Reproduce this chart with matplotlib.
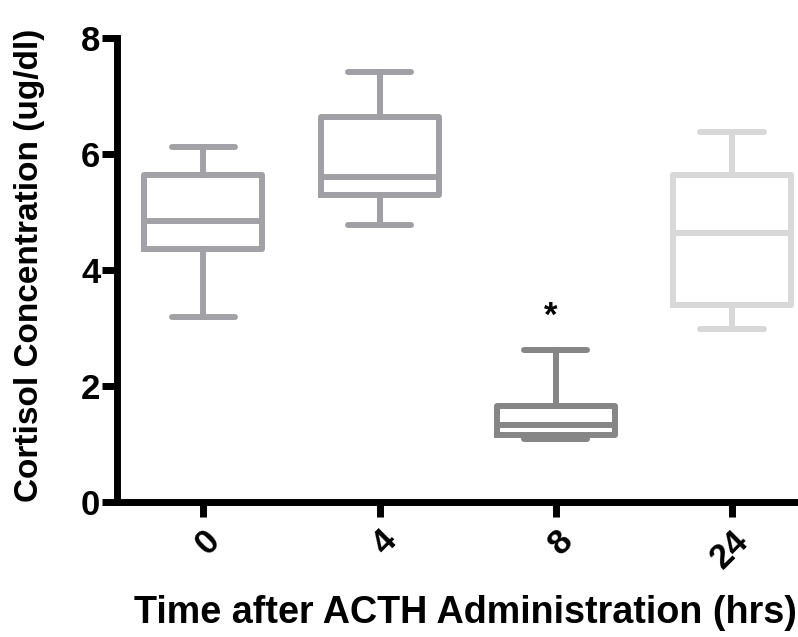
import numpy as np
import matplotlib
matplotlib.use('Agg')
import matplotlib.pyplot as plt

plt.rcParams['font.family'] = ['Liberation Sans', 'DejaVu Sans']
plt.rcParams['font.weight'] = 'bold'

# box summary values
groups = ['0', '4', '8', '24']
whis_lo = [3.19, 4.78, 1.08, 2.99]
q1 = [4.36, 5.30, 1.15, 3.39]
med = [4.85, 5.61, 1.33, 4.64]
q3 = [5.64, 6.64, 1.66, 5.64]
whis_hi = [6.12, 7.42, 2.63, 6.38]
colors = ['#a2a2a6', '#a0a0a4', '#868686', '#d8d8d8']

stats = []
for i in range(len(groups)):
    stats.append({'whislo': whis_lo[i], 'q1': q1[i], 'med': med[i],
                  'q3': q3[i], 'whishi': whis_hi[i], 'fliers': [], 'label': groups[i]})

fig = plt.figure(figsize=(7.98, 6.37), dpi=100)
ax = fig.add_axes([0.1466, 0.212, 0.87, 0.728])

pos = np.arange(len(groups))
lw = 4.3
for i in range(len(groups)):
    c = colors[i]
    ax.bxp([stats[i]], positions=[pos[i]], widths=0.67, showfliers=False,
           boxprops=dict(color=c, linewidth=lw, solid_joinstyle='round'),
           medianprops=dict(color=c, linewidth=lw),
           whiskerprops=dict(color=c, linewidth=lw),
           capprops=dict(color=c, linewidth=lw, solid_capstyle='round'),
           capwidths=0.36)

# significance mark over the 8 h group
ax.text(pos[2] - 0.03, 3.2, '*', ha='center', va='center', fontsize=25, fontweight='bold')

ax.set_xlim(-0.49, 3.45)
ax.set_ylim(0, 8)
ax.set_yticks([0, 2, 4, 6, 8])
ax.set_xticks(pos)
ax.set_xticklabels(groups, rotation=45, ha='right', rotation_mode='anchor')
ax.spines['top'].set_visible(False)
ax.spines['right'].set_visible(False)
ax.spines['left'].set_linewidth(5)
ax.spines['bottom'].set_linewidth(5)
ax.tick_params(axis='both', width=5, length=11, labelsize=25)
ax.tick_params(axis='x', pad=5)
ax.tick_params(axis='y', pad=1)

fig.text(0.037, 0.584, 'Cortisol Concentration (ug/dl)', rotation=90,
         ha='center', va='center', fontsize=24, fontweight='bold')
fig.text(0.583, 0.038, 'Time after ACTH Administration (hrs)',
         ha='center', va='center', fontsize=27.2, fontweight='bold')

fig.savefig('out.png', dpi=100)
